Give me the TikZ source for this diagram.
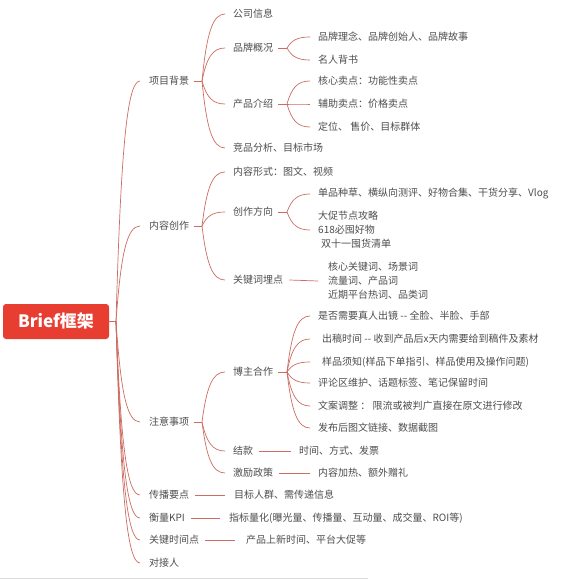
\documentclass[tikz,border=0pt]{standalone}
\usepackage{fontspec}
\setmainfont{Noto Sans CJK SC}
\usetikzlibrary{calc}
\definecolor{conncol}{RGB}{204,108,98}
\definecolor{rootcol}{RGB}{232,62,50}
\definecolor{txtcol}{RGB}{78,78,78}
\tikzset{
  txt/.style={anchor=west, inner sep=0pt, text=txtcol, align=left,
    font=\fontsize{10}{14}\selectfont},
  conn/.style={draw=conncol, line width=0.7pt},
  rootbox/.style={fill=rootcol, rounded corners=3pt, minimum width=106pt,
    minimum height=35pt, inner sep=0pt, text=white,
    font=\fontsize{17}{20}\selectfont\bfseries}
}
% curved connector from a branch coordinate to a child node
\newcommand\mmc[3][8pt]{%
  \edef\mmctarget{#3}%
  \draw[conn] let \p1=(#2), \p2=([xshift=-#1]\mmctarget.west) in
    (\p1) .. controls ({\x1+0.2*(\x2-\x1)},{\y1+0.7*(\y2-\y1)})
             and ({\x1+0.45*(\x2-\x1)},{\y2}) .. (\p2);}
% stub from a parent node to its branch coordinate
\newcommand\stub[2]{\draw[conn] ([xshift=5pt]#1.east) -- (#2);}
% straight single connector
\newcommand\sline[3][8pt]{\draw[conn] ([xshift=6pt]#2.east) -- ([xshift=-#1]#3.west);}
\begin{document}
\begin{tikzpicture}[x=1pt,y=-1pt]
\useasboundingbox (0,0) rectangle (567,580);
\fill[white] (0,0) rectangle (567,580);

% root
\node[rootbox] (root) at (56,321.5) {Brief框架};
\coordinate (r0) at (116,321.5);
\draw[conn] (root.east) -- (r0);

% level 1
\node[txt] (n1) at (149,81) {项目背景};
\node[txt] (n2) at (149,226) {内容创作};
\node[txt] (n3) at (149,422) {注意事项};
\node[txt] (n4) at (149,495) {传播要点};
\node[txt] (n5) at (149,518) {衡量KPI};
\node[txt] (n6) at (149,540) {关键时间点};
\node[txt] (n7) at (149,563) {对接人};
\foreach \nd in {n1,n2,n3,n4,n5,n6,n7} {\mmc[9pt]{r0}{\nd}}

% 项目背景
\coordinate (b1) at (202,81);
\stub{n1}{b1}
\node[txt] (n11) at (233,14) {公司信息};
\node[txt] (n12) at (233,48) {品牌概况};
\node[txt] (n13) at (233,104) {产品介绍};
\node[txt] (n14) at (233,148) {竞品分析、目标市场};
\foreach \nd in {n11,n12,n13,n14} {\mmc{b1}{\nd}}

\coordinate (b12) at (287,48);
\stub{n12}{b12}
\node[txt] (n121) at (318,37) {品牌理念、品牌创始人、品牌故事};
\node[txt] (n122) at (318,60) {名人背书};
\foreach \nd in {n121,n122} {\mmc{b12}{\nd}}

\coordinate (b13) at (287,104);
\stub{n13}{b13}
\node[txt] (n131) at (318,81) {核心卖点：功能性卖点};
\node[txt] (n132) at (318,104) {辅助卖点：价格卖点};
\node[txt] (n133) at (318,127) {定位、 售价、目标群体};
\foreach \nd in {n131,n132,n133} {\mmc{b13}{\nd}}

% 内容创作
\coordinate (b2) at (202,226);
\stub{n2}{b2}
\node[txt] (n21) at (233,172) {内容形式：图文、视频};
\node[txt] (n22) at (233,212) {创作方向};
\node[txt] (n23) at (233,280) {关键词埋点};
\foreach \nd in {n21,n22,n23} {\mmc{b2}{\nd}}

\coordinate (b22) at (287,212);
\stub{n22}{b22}
\node[txt] (n221) at (318,194) {单品种草、横纵向测评、好物合集、干货分享、Vlog};
\node[txt] (n222) at (318,230) {大促节点攻略\\618必囤好物\\\hspace{3pt}双十一囤货清单};
\foreach \nd in {n221,n222} {\mmc{b22}{\nd}}

\node[txt] (n231) at (328,281) {核心关键词、场景词\\流量词、产品词\\近期平台热词、品类词};
\sline[10pt]{n23}{n231}

% 注意事项
\coordinate (b3) at (202,422);
\stub{n3}{b3}
\node[txt] (n31) at (233,372) {博主合作};
\node[txt] (n32) at (233,451) {结款};
\node[txt] (n33) at (233,473) {激励政策};
\foreach \nd in {n31,n32,n33} {\mmc{b3}{\nd}}

\coordinate (b31) at (287,372);
\stub{n31}{b31}
\node[txt] (n311) at (318,316) {是否需要真人出镜 -{}- 全脸、半脸、手部};
\node[txt] (n312) at (322,339) {出稿时间 -{}- 收到产品后x天内需要给到稿件及素材};
\node[txt] (n313) at (322,362) {样品须知(样品下单指引、样品使用及操作问题)};
\node[txt] (n314) at (318,383) {评论区维护、话题标签、笔记保留时间};
\node[txt] (n315) at (318,406) {文案调整 ： 限流或被判广直接在原文进行修改};
\node[txt] (n316) at (318,428) {发布后图文链接、数据截图};
\foreach \nd in {n311,n314,n315,n316} {\mmc{b31}{\nd}}
\foreach \nd in {n312,n313} {\mmc[12pt]{b31}{\nd}}

\node[txt] (n321) at (299,451) {时间、方式、发票};
\sline{n32}{n321}
\node[txt] (n331) at (318,473) {内容加热、额外赠礼};
\sline{n33}{n331}

% single children of level 1
\node[txt] (n41) at (234,495) {目标人群、需传递信息};
\sline[9pt]{n4}{n41}
\node[txt] (n51) at (229,518) {指标量化(曝光量、传播量、互动量、成交量、ROI等)};
\sline[9pt]{n5}{n51}
\node[txt] (n61) at (246,540) {产品上新时间、平台大促等};
\sline[11pt]{n6}{n61}

% bottom rule
\draw[black!13, line width=0.8pt] (0,578) -- (368,578);
\end{tikzpicture}
\end{document}
